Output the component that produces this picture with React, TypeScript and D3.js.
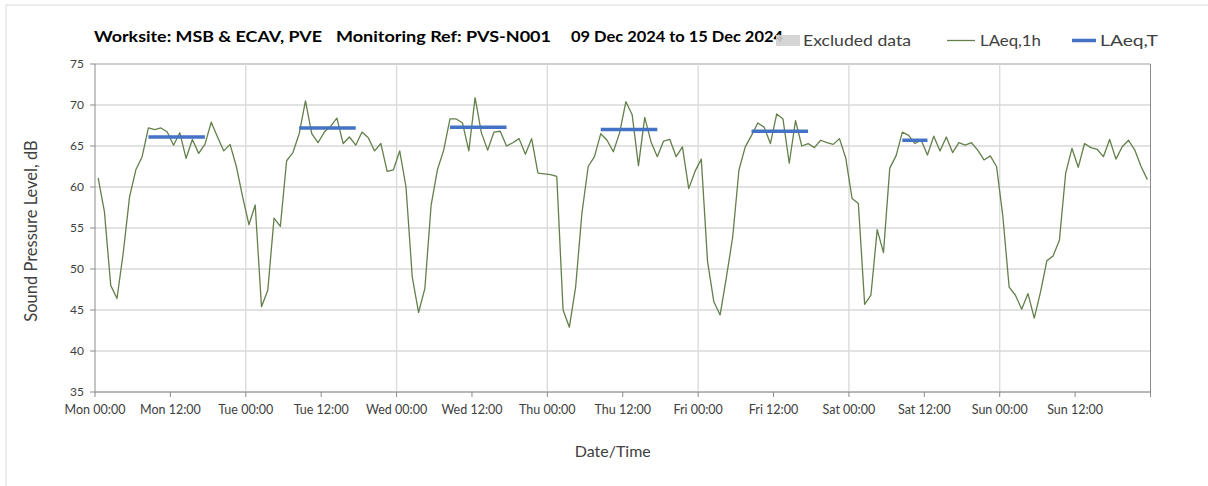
import React from 'react';
import * as d3 from 'd3';

// hourly LAeq,1h values, one array per day (00:00 .. 23:00)
const monVals = [61.1, 57.0, 48.0, 46.4, 52.0, 58.8, 62.1, 63.7, 67.2, 67.0, 67.2, 66.7, 65.1, 66.6, 63.5, 65.8, 64.1, 65.2, 67.9, 66.1, 64.4, 65.2, 62.5, 58.8];
const tueVals = [55.4, 57.8, 45.4, 47.4, 56.2, 55.2, 63.2, 64.2, 66.5, 70.5, 66.5, 65.4, 66.7, 67.4, 68.4, 65.3, 66.1, 65.1, 66.7, 66.0, 64.4, 65.3, 61.9, 62.1];
const wedVals = [64.4, 60.0, 49.0, 44.7, 47.6, 57.8, 62.1, 64.5, 68.3, 68.3, 67.8, 64.4, 70.9, 66.6, 64.5, 66.7, 66.8, 65.0, 65.4, 65.9, 64.0, 65.9, 61.7, 61.6];
const thuVals = [61.5, 61.3, 45.0, 42.9, 47.8, 56.8, 62.5, 63.7, 66.5, 65.7, 64.3, 66.6, 70.4, 68.8, 62.6, 68.5, 65.5, 63.7, 65.6, 65.8, 63.7, 64.9, 59.8, 61.9];
const friVals = [63.4, 50.9, 46.0, 44.4, 49.0, 53.9, 62.1, 64.9, 66.3, 67.8, 67.3, 65.3, 68.9, 68.3, 62.9, 68.1, 65.0, 65.3, 64.8, 65.7, 65.4, 65.2, 65.9, 63.5];
const satVals = [58.6, 58.0, 45.7, 46.8, 54.8, 52.0, 62.3, 63.8, 66.7, 66.3, 65.3, 65.7, 63.9, 66.2, 64.4, 66.1, 64.2, 65.4, 65.1, 65.4, 64.5, 63.3, 63.8, 62.5];
const sunVals = [56.4, 47.8, 46.8, 45.1, 47.0, 44.0, 47.2, 51.0, 51.6, 53.5, 61.7, 64.7, 62.4, 65.3, 64.8, 64.6, 63.7, 65.8, 63.4, 64.9, 65.7, 64.5, 62.5, 60.9];

const dayNames = ['Mon', 'Tue', 'Wed', 'Thu', 'Fri', 'Sat', 'Sun'];

// LAeq,T daytime periods (day index, first hour, last hour, level)
const ltDay = [0, 1, 2, 3, 4, 5];
const ltStart = [8, 8, 8, 8, 8, 8];
const ltEnd = [17, 17, 17, 17, 17, 12];
const ltLevel = [66.1, 67.2, 67.3, 67.0, 66.8, 65.7];

const yTicks = [35, 40, 45, 50, 55, 60, 65, 70, 75];

const font = 'Lato, "Open Sans", sans-serif';
const grey = '#404040';
const green = '#637f4a';
const blue = '#4472c4';

const App = () => {
  const width = 1208;
  const height = 486;
  const left = 95;
  const right = 1150.5;
  const top = 64;
  const bottom = 392;

  const hourly = [monVals, tueVals, wedVals, thuVals, friVals, satVals, sunVals].flat();
  const nHours = hourly.length;

  const x = d3.scaleLinear().domain([0, nHours]).range([left, right]);
  const y = d3.scaleLinear().domain([35, 75]).range([bottom, top]);

  const line = d3.line<number>()
    .x((d, i) => x(i + 0.5))
    .y(d => y(d));

  const xTicks = d3.range(0, nHours + 1, 12);
  const dayTicks = d3.range(24, nHours, 24);

  return (
    <svg width={width} height={height} style={{ position: 'absolute', left: 0, top: 0, background: '#fff' }}>
      <rect x={6} y={5} width={1220} height={500} fill="#fff" stroke="#d9d9d9" strokeWidth={1} />

      {/* grid */}
      {yTicks.map(t => (
        <line key={'gy' + t} x1={left} x2={right} y1={y(t)} y2={y(t)} stroke={t === 75 ? '#bfbfbf' : '#d9d9d9'} strokeWidth={1.3} />
      ))}
      {dayTicks.map(t => (
        <line key={'gx' + t} x1={x(t)} x2={x(t)} y1={top} y2={bottom} stroke="#d9d9d9" strokeWidth={1.3} />
      ))}
      <line x1={right} x2={right} y1={top} y2={bottom} stroke="#8c8c8c" strokeWidth={1} />

      {/* axes */}
      <line x1={left} x2={left} y1={top} y2={bottom} stroke="#8c8c8c" strokeWidth={1} />
      <line x1={left} x2={right} y1={bottom} y2={bottom} stroke="#8c8c8c" strokeWidth={1} />
      {yTicks.map(t => (
        <g key={'yt' + t}>
          <line x1={left - 5} x2={left} y1={y(t)} y2={y(t)} stroke="#8c8c8c" />
          <text x={left - 11} y={y(t)} dy="0.35em" textAnchor="end" fontSize={12} fill={grey} fontFamily={font}>{t}</text>
        </g>
      ))}
      {xTicks.map(t => (
        <g key={'xt' + t}>
          <line x1={x(t)} x2={x(t)} y1={bottom} y2={bottom + 5} stroke="#8c8c8c" />
          {t < nHours && (
            <text x={x(t)} y={bottom + 22} textAnchor="middle" fontSize={12.5} fill={grey} fontFamily={font}>
              {`${dayNames[Math.floor(t / 24)]} ${t % 24 === 0 ? '00:00' : '12:00'}`}
            </text>
          )}
        </g>
      ))}

      <text transform={`translate(37,${(top + bottom) / 2 + 3}) rotate(-90)`} textAnchor="middle" fontSize={16.5} fill={grey} fontFamily={font}>
        Sound Pressure Level, dB
      </text>
      <text x={(left + right) / 2 - 10} y={457} textAnchor="middle" fontSize={16} fill={grey} fontFamily={font}>
        Date/Time
      </text>

      {/* series */}
      <path d={line(hourly) || ''} fill="none" stroke={green} strokeWidth={1.3} strokeLinejoin="round" />
      {ltDay.map((d, k) => (
        <line key={'lt' + k}
          x1={x(d * 24 + ltStart[k] + 0.5)} x2={x(d * 24 + ltEnd[k] + 0.5)}
          y1={y(ltLevel[k])} y2={y(ltLevel[k])}
          stroke={blue} strokeWidth={3.5} />
      ))}

      {/* title */}
      <text x={94} y={42} fontSize={15} fontWeight="bold" fill="#000" fontFamily={font} textLength={228} lengthAdjust="spacingAndGlyphs">Worksite: MSB &amp; ECAV, PVE</text>
      <text x={336} y={42} fontSize={15} fontWeight="bold" fill="#000" fontFamily={font} textLength={215} lengthAdjust="spacingAndGlyphs">Monitoring Ref: PVS-N001</text>
      <text x={571} y={42} fontSize={15} fontWeight="bold" fill="#000" fontFamily={font} textLength={212} lengthAdjust="spacingAndGlyphs">09 Dec 2024 to 15 Dec 2024</text>

      {/* legend */}
      <rect x={776} y={35} width={24} height={11} fill="#d0d0d0" opacity={0.9} />
      <text x={803} y={46} fontSize={15} fill={grey} fontFamily={font} textLength={108} lengthAdjust="spacingAndGlyphs">Excluded data</text>
      <line x1={947} x2={975} y1={40.5} y2={40.5} stroke={green} strokeWidth={1.3} />
      <text x={980} y={46} fontSize={15} fill={grey} fontFamily={font} textLength={61} lengthAdjust="spacingAndGlyphs">LAeq,1h</text>
      <line x1={1072} x2={1096} y1={40.5} y2={40.5} stroke={blue} strokeWidth={3.5} />
      <text x={1100} y={46} fontSize={15} fill={grey} fontFamily={font} textLength={58} lengthAdjust="spacingAndGlyphs">LAeq,T</text>
    </svg>
  );
};

export default App;
